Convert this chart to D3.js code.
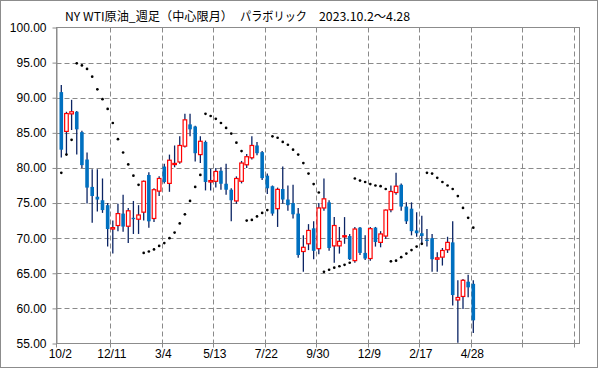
<!DOCTYPE html>
<html><head><meta charset="utf-8">
<script src="https://cdn.jsdelivr.net/npm/d3@7"></script>
<style>body{margin:0;background:#fff}svg{display:block}</style>
</head><body>
<script>
// ---- data (weekly, index 0 = 2023-10-02 ... 80 = 2025-04-28) ----
const xLabels = ["10/2","12/11","3/4","5/13","7/22","9/30","12/9","2/17","4/28"];
const xLabelIdx = [0,10,20,30,40,50,60,70,80];
const yTicks = [55,60,65,70,75,80,85,90,95,100];
const nSlots = 101;

const open = [90.8,85.2,87.7,88.0,85.1,81.2,77.3,75.9,75.4,74.7,
71.3,71.8,73.5,71.7,72.9,72.7,73.7,79.0,72.8,76.7,
80.2,77.8,80.5,80.85,83.1,86.2,85.9,81.9,83.7,78.0,
78.1,79.6,77.75,76.9,75.3,78.1,80.45,81.45,83.2,82.25,
78.9,77.4,74.2,77.0,75.5,75.0,73.5,68.1,69.2,71.4,
68.5,74.3,75.1,68.9,68.9,70.2,70.3,66.8,71.5,67.9,
67.1,71.5,69.4,70.3,74.05,76.5,77.6,74.5,74.2,71.1,
70.7,69.8,70.0,67.0,67.3,68.35,69.4,61.2,61.7,63.8,
63.5];
const high = [91.8,88.0,89.7,88.1,85.3,82.2,79.8,79.8,78.5,75.0,
72.5,74.9,76.2,74.3,75.3,74.7,78.2,79.4,77.1,78.8,
80.6,81.9,83.2,84.5,87.7,87.7,86.0,84.5,83.9,79.9,
80.0,80.1,80.6,77.1,78.8,81.0,82.0,84.5,83.7,82.4,
79.2,77.5,77.2,80.2,77.5,77.6,74.3,70.4,72.0,72.4,
75.0,78.5,75.4,73.0,71.6,73.0,70.6,71.6,71.6,70.4,
71.6,71.6,71.0,74.1,77.5,79.3,77.8,75.1,75.1,73.7,
73.2,71.3,70.6,68.0,68.6,70.2,72.4,64.0,64.2,64.8,
64.0];
const low = [81.5,81.9,85.4,81.9,80.0,74.95,72.2,73.8,73.6,68.8,
67.8,71.0,70.9,69.3,70.6,70.6,72.5,71.5,72.3,76.0,
77.8,76.6,80.1,80.6,82.9,84.5,80.9,80.7,76.8,76.8,
77.2,76.9,76.2,72.4,74.9,77.8,80.0,81.2,81.8,78.3,
76.3,73.2,71.6,74.9,73.9,72.8,67.2,65.2,68.3,67.0,
67.7,73.9,68.2,66.5,67.8,69.2,66.9,66.5,67.6,66.9,
66.8,68.8,68.7,69.9,73.7,76.2,73.9,72.0,70.4,70.2,
69.3,68.8,65.2,65.2,66.1,67.9,60.4,55.1,59.9,61.6,
56.5];
const close = [82.6,87.75,88.0,85.5,80.4,77.2,76.0,75.5,74.0,71.3,
71.5,73.5,71.65,73.9,72.7,73.3,78.1,72.4,76.9,78.5,
78.0,81.1,80.65,83.2,86.85,85.5,82.1,83.8,78.0,78.2,
79.5,77.75,76.9,75.4,78.5,80.7,81.6,83.2,82.1,78.55,
77.1,73.5,76.95,75.5,74.7,73.4,67.6,68.7,71.1,68.2,
74.3,75.6,68.6,71.8,69.55,70.35,67.0,71.3,67.9,67.1,
71.35,69.45,70.6,74.0,76.65,77.4,74.5,72.4,71.0,70.7,
70.3,69.6,67.0,67.2,68.25,69.4,61.9,61.55,64.0,63.0,
58.3];
const sar = [79.3,81.9,84.0,94.9,94.6,94.1,93.0,91.2,89.8,88.4,
86.4,84.1,82.2,80.5,78.9,77.6,67.9,68.1,68.4,68.9,
69.3,70.0,70.8,72.1,73.4,75.3,77.3,79.0,87.7,87.4,
87.0,86.4,85.7,84.9,83.6,82.4,72.5,72.6,73.1,73.6,
74.0,84.5,84.3,83.7,83.3,82.6,81.9,80.7,79.2,77.7,
76.5,65.2,65.5,65.8,66.0,66.2,66.5,78.5,78.2,78.0,
77.7,77.5,77.4,77.0,66.7,66.8,67.3,67.8,68.3,68.8,
69.2,79.3,79.2,78.6,78.0,77.5,77.0,76.0,74.3,72.9,
71.5];

// ---- layout ----
const W = 599, H = 369;
const L = 56.5, R = 579.5, T = 27.5, B = 343.5;
const svg = d3.select("body").append("svg").attr("width", W).attr("height", H);

svg.append("rect").attr("x",0.5).attr("y",0.5).attr("width",597).attr("height",367)
  .attr("fill","#fff").attr("stroke","#8c8c8c");

const x = d3.scaleLinear().domain([0, 100]).range([61.3, 576.3]);
const y = d3.scaleLinear().domain([55, 100]).range([B, T]);

const grid = "#8a8a8a";
// horizontal gridlines
svg.append("g").selectAll("line").data(yTicks.filter(v => v > 55 && v < 100)).join("line")
  .attr("x1", L).attr("x2", R)
  .attr("y1", d => Math.round(y(d)) + 0.5).attr("y2", d => Math.round(y(d)) + 0.5)
  .attr("stroke", grid).attr("stroke-width", 1).attr("stroke-dasharray", "5,3");
// vertical gridlines (every 10 categories)
const vg = d3.range(1, 11).map(k => 10 * k - 0.5);
svg.append("g").selectAll("line").data(vg).join("line")
  .attr("x1", d => Math.round(x(d)) + 0.5).attr("x2", d => Math.round(x(d)) + 0.5)
  .attr("y1", T).attr("y2", B)
  .attr("stroke", grid).attr("stroke-width", 1).attr("stroke-dasharray", "5,3");

// plot border
svg.append("rect").attr("x", L).attr("y", T).attr("width", R - L).attr("height", B - T)
  .attr("fill", "none").attr("stroke", "#8c8c8c");

// y axis
const yAxis = svg.append("g").attr("transform", `translate(${L},0)`)
  .call(d3.axisLeft(y).tickValues(yTicks).tickFormat(d3.format(".2f")).tickSize(4).tickSizeOuter(0).tickPadding(6));
yAxis.select(".domain").attr("stroke", "#8c8c8c");
yAxis.selectAll(".tick line").attr("stroke", "#8c8c8c");
yAxis.selectAll("text").attr("font-family", "'Liberation Sans', Arial, sans-serif")
  .attr("font-size", 12).attr("fill", "#000");

// x ticks (at gridlines)
svg.append("g").selectAll("line").data([-0.9].concat(vg)).join("line")
  .attr("x1", d => d < 0 ? L : Math.round(x(d)) + 0.5).attr("x2", d => d < 0 ? L : Math.round(x(d)) + 0.5)
  .attr("y1", B).attr("y2", B + 4).attr("stroke", "#8c8c8c");

// x labels
const xAxis = svg.append("g").attr("transform", `translate(-1.5,${B})`)
  .call(d3.axisBottom(x).tickValues(xLabelIdx).tickFormat((d, i) => xLabels[i]).tickSize(0).tickPadding(6));
xAxis.select(".domain").remove();
xAxis.selectAll("text").attr("font-family", "'Liberation Sans', Arial, sans-serif")
  .attr("font-size", 12).attr("fill", "#000");

// candles
const idx = d3.range(open.length);
const bw = 3.6;
svg.append("g").selectAll("line").data(idx).join("line")
  .attr("x1", i => x(i)).attr("x2", i => x(i))
  .attr("y1", i => y(high[i])).attr("y2", i => y(low[i]))
  .attr("stroke", "#0b2464").attr("stroke-width", 1.3);
svg.append("g").selectAll("rect").data(idx).join("rect")
  .attr("x", i => x(i) - bw / 2)
  .attr("width", bw)
  .attr("y", i => y(Math.max(open[i], close[i])))
  .attr("height", i => Math.max(1.2, Math.abs(y(open[i]) - y(close[i]))))
  .attr("fill", i => close[i] >= open[i] ? "#fff" : "#0070c0")
  .attr("stroke", i => close[i] >= open[i] ? "#ff0000" : "none")
  .attr("stroke-width", 1.2);

// parabolic SAR dots
svg.append("g").selectAll("circle").data(idx).join("circle")
  .attr("cx", i => x(i)).attr("cy", i => y(sar[i])).attr("r", 1.35).attr("fill", "#000");

// title
const tf = "'Noto Sans CJK JP', 'Noto Sans', sans-serif";
const title = [
  {t: "NY WTI原油_週足（中心限月）", x: 65, w: 168},
  {t: "パラボリック", x: 240, w: 67},
  {t: "2023.10.2～4.28", x: 319, w: 91}
];
svg.append("g").selectAll("text").data(title).join("text")
  .attr("x", d => d.x).attr("y", 20.5)
  .attr("textLength", d => d.w).attr("lengthAdjust", "spacingAndGlyphs")
  .attr("font-family", tf).attr("font-size", 12).attr("fill", "#000")
  .text(d => d.t);
</script>
</body></html>
